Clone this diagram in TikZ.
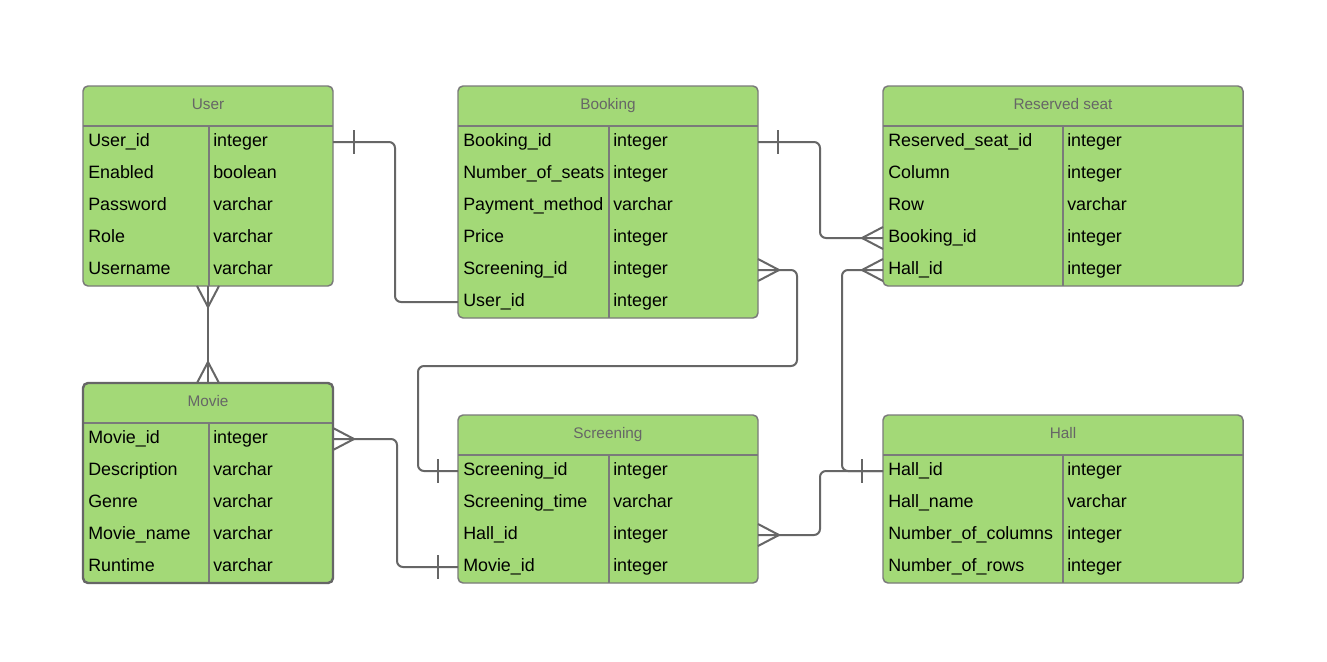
\documentclass[tikz,border=0pt]{standalone}
\usepackage{fontspec}
\setmainfont{Liberation Sans}
\usetikzlibrary{calc}
\definecolor{tgreen}{HTML}{A3D977}
\definecolor{tborder}{HTML}{7A7A7A}
\definecolor{cline}{HTML}{666666}
\definecolor{hgray}{HTML}{666666}
\tikzset{
  tframe/.style={draw=tborder, fill=tgreen, line width=1.1pt, rounded corners=3.75pt, inner sep=0pt, outer sep=0pt},
  tline/.style={draw=tborder, line width=1pt},
  thead/.style={text=hgray, font=\fontsize{11.5}{14}\selectfont, inner sep=0pt},
  trow/.style={inner sep=0pt, outer sep=0pt, minimum height=24pt},
  tfield/.style={text=black, font=\fontsize{13.4}{16}\selectfont, inner sep=0pt},
  conn/.style={draw=cline, line width=1.5pt, rounded corners=4.5pt},
  relmark/.style={draw=cline, line width=1.5pt}
}
\newcommand\ertable[8]{%
  \node[tframe, minimum width=#4*0.75pt, minimum height=(40+32*#6)*0.75pt, anchor=north west] (#1) at (#2,#3) {};
  \draw[tline] (#2,#3+40) -- (#2+#4,#3+40);
  \draw[tline] (#2+#5,#3+40) -- (#2+#5,#3+40+32*#6);
  \node[thead, anchor=base] (#1-t) at (#2+#4/2,#3+23) {#7};
  \foreach \fn/\ft [count=\i] in {#8} {
    \node[trow, minimum width=#4*0.75pt] (#1-\i) at (#2+#4/2, #3+40+32*\i-16) {};
    \node[tfield, anchor=base west] (#1-\i-n) at (#2+5, #3+40+32*\i-11.5) {\fn};
    \node[tfield, anchor=base west] (#1-\i-t) at (#2+#5+4, #3+40+32*\i-11.5) {\ft};
  }
}
\begin{document}
\begin{tikzpicture}[x=0.75pt, y=-0.75pt]
\useasboundingbox[fill=white] (0,0) rectangle (1327,661);

\ertable{user}{83}{86}{250}{126}{5}{User}{User\_id/integer, Enabled/boolean, Password/varchar, Role/varchar, Username/varchar}
\ertable{booking}{458}{86}{300}{151}{6}{Booking}{Booking\_id/integer, Number\_of\_seats/integer, Payment\_method/varchar, Price/integer, Screening\_id/integer, User\_id/integer}
\ertable{rseat}{883}{86}{360}{180}{5}{Reserved seat}{Reserved\_seat\_id/integer, Column/integer, Row/varchar, Booking\_id/integer, Hall\_id/integer}
\ertable{movie}{83}{383}{250}{126}{5}{Movie}{Movie\_id/integer, Description/varchar, Genre/varchar, Movie\_name/varchar, Runtime/varchar}
\ertable{screening}{458}{415}{300}{151}{4}{Screening}{Screening\_id/integer, Screening\_time/varchar, Hall\_id/integer, Movie\_id/integer}
\ertable{hall}{883}{415}{360}{180}{4}{Hall}{Hall\_id/integer, Hall\_name/varchar, Number\_of\_columns/integer, Number\_of\_rows/integer}
\draw[draw=cline, line width=1.8pt, rounded corners=3.75pt] (movie.north west) rectangle (movie.south east);

% User -- Booking
\draw[conn] (user-1.east) -- ++(62,0) |- (booking-6.west);
\draw[relmark] ($(user-1.east)+(21,-12)$) -- ++(0,24);

% User -- Movie
\draw[conn] (user.south) -- (movie.north);
\draw[relmark] ($(user.south)+(-11,0)$) -- ($(user.south)+(0,21)$) -- ($(user.south)+(11,0)$);
\draw[relmark] ($(movie.north)+(-11,0)$) -- ($(movie.north)+(0,-21)$) -- ($(movie.north)+(11,0)$);

% Booking -- Reserved seat
\draw[conn] (booking-1.east) -- ++(62,0) |- (rseat-4.west);
\draw[relmark] ($(booking-1.east)+(20,-12)$) -- ++(0,24);
\draw[relmark] ($(rseat-4.west)+(0,-11)$) -- ($(rseat-4.west)+(-21,0)$) -- ($(rseat-4.west)+(0,11)$);

% Booking -- Screening
\draw[conn] (booking-5.east) -- ++(39,0) |- (418,366) |- (screening-1.west);
\draw[relmark] ($(booking-5.east)+(0,-11)$) -- ($(booking-5.east)+(21,0)$) -- ($(booking-5.east)+(0,11)$);
\draw[relmark] ($(screening-1.west)+(-20,-12)$) -- ++(0,24);

% Reserved seat -- Hall
\draw[conn] (rseat-5.west) -- ++(-41,0) |- (hall-1.west);
\draw[relmark] ($(rseat-5.west)+(0,-11)$) -- ($(rseat-5.west)+(-21,0)$) -- ($(rseat-5.west)+(0,11)$);
\draw[relmark] ($(hall-1.west)+(-21,-12)$) -- ++(0,24);

% Screening -- Hall
\draw[conn] (screening-3.east) -- ++(62,0) |- (hall-1.west);
\draw[relmark] ($(screening-3.east)+(0,-11)$) -- ($(screening-3.east)+(21,0)$) -- ($(screening-3.east)+(0,11)$);

% Movie -- Screening
\draw[conn] (movie-1.east) -- ++(64,0) |- (screening-4.west);
\draw[relmark] ($(movie-1.east)+(0,-11)$) -- ($(movie-1.east)+(21,0)$) -- ($(movie-1.east)+(0,11)$);
\draw[relmark] ($(screening-4.west)+(-20,-12)$) -- ++(0,24);
\end{tikzpicture}
\end{document}
